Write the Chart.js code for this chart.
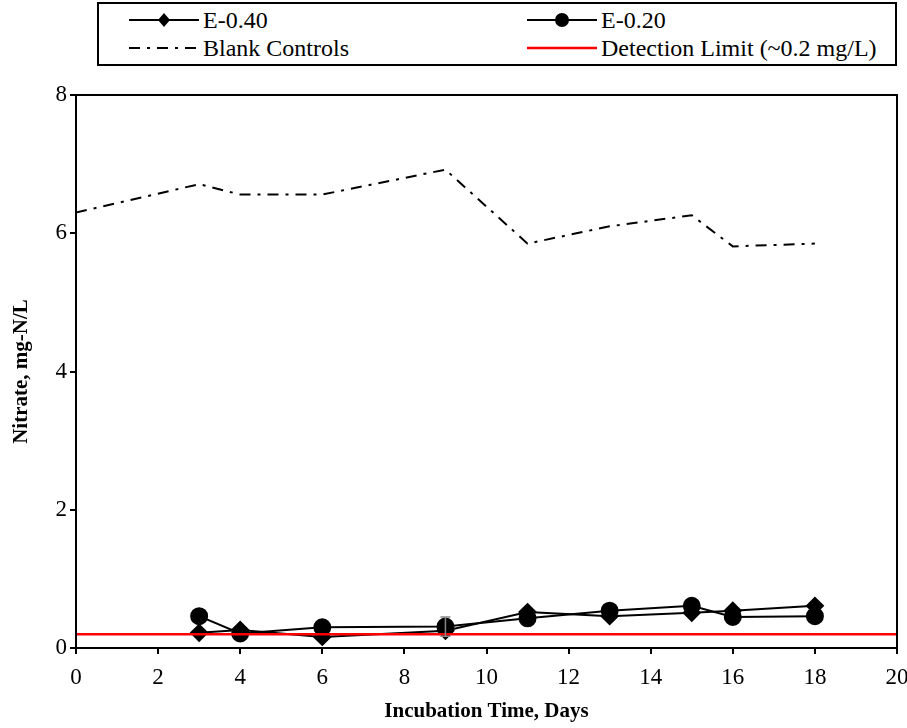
<!DOCTYPE html>
<html>
<head>
<meta charset="utf-8">
<script src="https://cdn.jsdelivr.net/npm/chart.js@4"></script>
<style>
  body { margin: 0; background: #fff; }
  #wrap { position: relative; width: 907px; height: 728px; }
  #legend { position: absolute; left: 97px; top: 2px; width: 796px; height: 60px; border: 2px solid #000; background: #fff;
            font-family: "Liberation Serif", "Times New Roman", serif; font-size: 24px; color: #000; }
  .item { position: absolute; height: 28px; line-height: 28px; white-space: nowrap; }
  .item canvas { position: absolute; left: 0; top: 4px; }
  .item span { position: absolute; left: 74px; top: 0; }
</style>
</head>
<body>
<div id="wrap">
  <canvas id="grafico" width="907" height="728"></canvas>
  <div id="legend"></div>
</div>
<script>
// dati
var giorni = [3, 4, 6, 9, 11, 13, 15, 16, 18];
var e040 = [0.22, 0.26, 0.16, 0.25, 0.52, 0.46, 0.51, 0.54, 0.61];
var e020 = [0.46, 0.21, 0.30, 0.31, 0.43, 0.54, 0.61, 0.45, 0.46];
var errE020 = [0, 0, 0, 0.14, 0, 0, 0, 0, 0];
var giorniBianco = [0, 3, 4, 6, 9, 11, 13, 15, 16, 18];
var bianco = [6.30, 6.71, 6.56, 6.56, 6.92, 5.85, 6.10, 6.26, 5.81, 5.85];
var limiteX = [0, 20];
var limite = [0.2, 0.2];
var xTicks = [0, 2, 4, 6, 8, 10, 12, 14, 16, 18, 20];
var yTicks = [0, 2, 4, 6, 8];

var font = '"Liberation Serif", "Times New Roman", serif';

function punti(xs, ys) {
    var out = [];
    for (var i = 0; i < xs.length; i++) out.push({x: xs[i], y: ys[i]});
    return out;
}

var datasets = [{
    label: 'E-0.40',
    data: punti(giorni, e040),
    borderColor: '#000', backgroundColor: '#000', borderWidth: 2,
    pointStyle: 'rectRot', pointRadius: 8, pointHoverRadius: 8
}, {
    label: 'E-0.20',
    data: punti(giorni, e020),
    errori: errE020,
    borderColor: '#000', backgroundColor: '#000', borderWidth: 2,
    pointStyle: 'circle', pointRadius: 8, pointHoverRadius: 8
}, {
    label: 'Blank Controls',
    data: punti(giorniBianco, bianco),
    borderColor: '#000', borderWidth: 2, borderDash: [11, 7, 3, 7],
    pointRadius: 0
}, {
    label: 'Detection Limit (~0.2 mg/L)',
    data: punti(limiteX, limite),
    borderColor: '#ff0000', borderWidth: 2.5,
    pointRadius: 0, order: -1
}];

var cornice = {
    id: 'cornice',
    afterDatasetsDraw: function (chart) {
        var ctx = chart.ctx;
        var xs = chart.scales.x, ys = chart.scales.y;
        // barre di errore
        chart.data.datasets.forEach(function (ds) {
            if (!ds.errori) return;
            ctx.save();
            ctx.strokeStyle = '#888';
            ctx.lineWidth = 1.5;
            ds.data.forEach(function (p, i) {
                var e = ds.errori[i];
                if (!e) return;
                var px = xs.getPixelForValue(p.x);
                var y1 = ys.getPixelForValue(p.y + e), y2 = ys.getPixelForValue(p.y - e);
                ctx.beginPath();
                ctx.moveTo(px, y1); ctx.lineTo(px, y2);
                ctx.moveTo(px - 5, y1); ctx.lineTo(px + 5, y1);
                ctx.moveTo(px - 5, y2); ctx.lineTo(px + 5, y2);
                ctx.stroke();
            });
            ctx.restore();
        });
        var a = chart.chartArea;
        ctx.save();
        ctx.strokeStyle = '#000';
        ctx.lineWidth = 2;
        ctx.strokeRect(a.left, a.top, a.right - a.left, a.bottom - a.top);
        ctx.restore();
    }
};

var ctx = document.getElementById('grafico');
var grafico = new Chart(ctx, {
    type: 'line',
    data: { datasets: datasets },
    options: {
        responsive: false,
        animation: false,
        events: [],
        layout: { padding: { top: 95, right: 10, left: 0, bottom: 0 } },
        plugins: { legend: { display: false }, tooltip: { enabled: false } },
        scales: {
            x: {
                type: 'linear', min: 0, max: 20,
                afterFit: function (s) { s.height = 80; s.paddingLeft = 0; s.paddingRight = 0; },
                afterBuildTicks: function (s) { s.ticks = xTicks.map(function (v) { return {value: v}; }); },
                grid: { drawOnChartArea: false, tickLength: 6, color: '#000', lineWidth: 2 },
                border: { color: '#000', width: 2 },
                ticks: { color: '#000', padding: 10, maxRotation: 0, font: { family: font, size: 23 } },
                title: { display: true, text: 'Incubation Time, Days', color: '#000', padding: { top: 0, bottom: 4 },
                         font: { family: font, size: 21, weight: 'bold' } }
            },
            y: {
                min: 0, max: 8,
                afterFit: function (s) { s.width = 76; },
                afterBuildTicks: function (s) { s.ticks = yTicks.map(function (v) { return {value: v}; }); },
                grid: { drawOnChartArea: false, tickLength: 6, color: '#000', lineWidth: 2 },
                border: { color: '#000', width: 2 },
                ticks: { color: '#000', padding: 3, font: { family: font, size: 23 } },
                title: { display: true, text: 'Nitrate, mg-N/L', color: '#000', padding: { top: 9, bottom: 0 },
                         font: { family: font, size: 21, weight: 'bold' } }
            }
        }
    },
    plugins: [cornice]
});

// legenda html
var legenda = document.getElementById('legend');
var colonne = [30, 428], righe = [2, 30];
datasets.forEach(function (ds, i) {
    var item = document.createElement('div');
    item.className = 'item';
    item.style.left = colonne[i % 2] + 'px';
    item.style.top = righe[Math.floor(i / 2)] + 'px';
    var c = document.createElement('canvas');
    c.width = 70; c.height = 20;
    var g = c.getContext('2d');
    g.strokeStyle = ds.borderColor;
    g.lineWidth = ds.borderWidth;
    if (ds.borderDash) g.setLineDash(ds.borderDash);
    g.beginPath(); g.moveTo(0, 10); g.lineTo(70, 10); g.stroke();
    g.fillStyle = '#000';
    if (ds.pointStyle === 'circle') {
        g.beginPath(); g.arc(35, 10, 7, 0, Math.PI * 2); g.fill();
    } else if (ds.pointStyle === 'rectRot') {
        g.beginPath(); g.moveTo(35, 3); g.lineTo(41, 10); g.lineTo(35, 17); g.lineTo(29, 10); g.closePath(); g.fill();
    }
    var t = document.createElement('span');
    t.textContent = ds.label;
    item.appendChild(c);
    item.appendChild(t);
    legenda.appendChild(item);
});
</script>
</body>
</html>
